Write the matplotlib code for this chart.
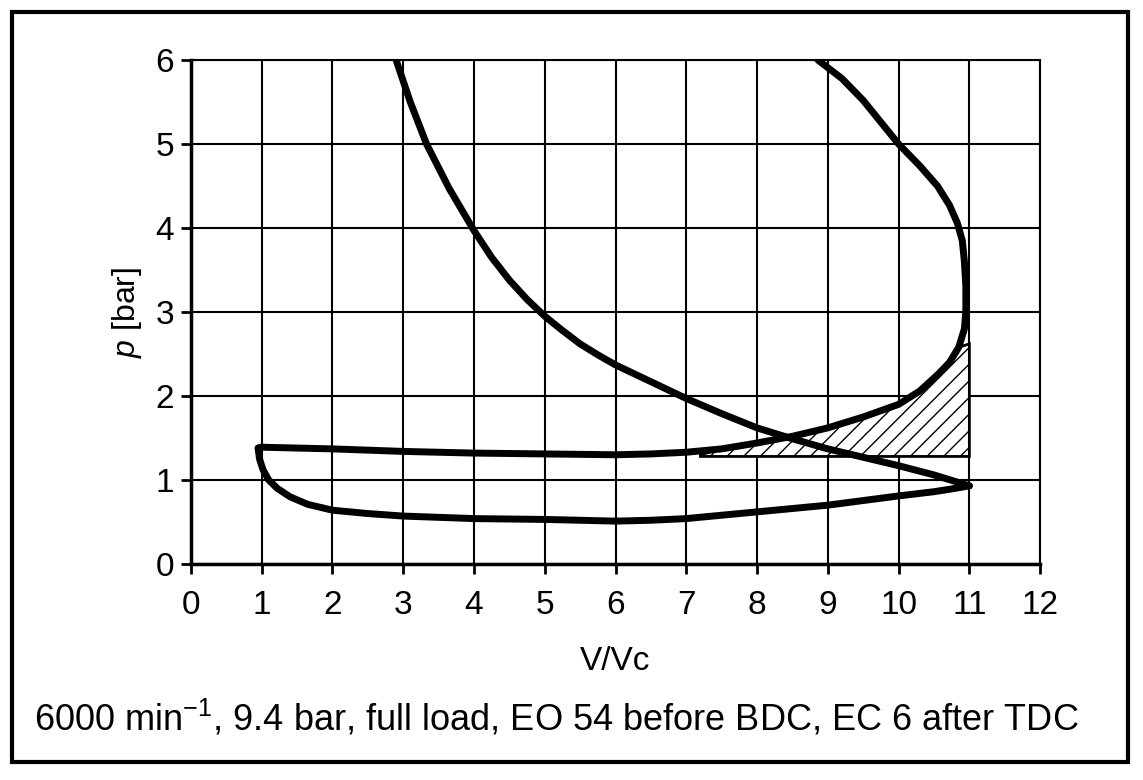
import matplotlib.pyplot as plt
from matplotlib.patches import Rectangle, Polygon

plt.rcParams['font.family'] = ['Liberation Sans', 'DejaVu Sans']
plt.rcParams['mathtext.fontset'] = 'custom'
plt.rcParams['mathtext.rm'] = 'Liberation Sans'
plt.rcParams['mathtext.it'] = 'Liberation Sans:italic'

# expansion line (after exhaust opens)
exp_v = [2.9, 3.1, 3.33, 3.65, 4.0, 4.25, 4.5, 4.75, 5.0, 5.25, 5.5, 5.75, 6.0, 6.5, 7.0, 7.5,
         8.0, 8.5, 9.0, 9.5, 10.0, 10.5, 11.0]
exp_p = [6.0, 5.5, 5.0, 4.47, 3.97, 3.65, 3.38, 3.15, 2.95, 2.78, 2.62, 2.49, 2.37, 2.17, 1.97, 1.79,
         1.62, 1.49, 1.37, 1.27, 1.17, 1.06, 0.93]

# blowdown + exhaust stroke
exh_v = [8.86, 9.2, 9.5, 9.75, 10.0, 10.3, 10.55, 10.72, 10.83, 10.9, 10.93, 10.95, 10.95, 10.93,
         10.85, 10.72, 10.56, 10.3, 10.0, 9.5, 9.0, 8.5, 8.0, 7.5, 7.0, 6.5, 6.0, 5.0, 4.0, 3.0,
         2.0, 1.0, 0.95]
exh_p = [6.0, 5.78, 5.52, 5.26, 5.0, 4.74, 4.5, 4.27, 4.06, 3.85, 3.6, 3.31, 3.0, 2.8,
         2.58, 2.4, 2.26, 2.06, 1.9, 1.75, 1.62, 1.52, 1.44, 1.37, 1.33, 1.31, 1.30, 1.31, 1.32, 1.34,
         1.37, 1.39, 1.38]

# intake stroke
int_v = [0.95, 0.97, 1.02, 1.1, 1.22, 1.4, 1.65, 2.0, 2.5, 3.0, 4.0, 5.0, 6.0, 6.5, 7.0, 8.0,
         9.0, 10.0, 10.5, 10.8, 11.0]
int_p = [1.38, 1.25, 1.12, 1.0, 0.9, 0.8, 0.71, 0.64, 0.6, 0.57, 0.54, 0.53, 0.51, 0.52, 0.54, 0.62,
         0.70, 0.81, 0.86, 0.9, 0.93]

# hatched loss area
hatch_v = [7.2, 7.5, 8.0, 8.5, 9.0, 9.5, 10.0, 10.3, 10.56, 10.72, 10.85, 11.0, 11.0]
hatch_p = [1.30, 1.37, 1.44, 1.52, 1.62, 1.75, 1.9, 2.06, 2.26, 2.4, 2.58, 2.62, 1.28]

fig = plt.figure(figsize=(11.43, 7.8), dpi=100)
ax = fig.add_axes([0.167, 0.277, 0.743, 0.646])

ax.add_patch(Polygon(list(zip(hatch_v, hatch_p)) + [(7.2, 1.28)], closed=True,
                     facecolor='white', edgecolor='black', hatch='//', lw=2, zorder=2))
for v, p in [(exp_v, exp_p), (exh_v, exh_p), (int_v, int_p)]:
    ax.plot(v, p, color='black', lw=5, solid_capstyle='round', solid_joinstyle='round', zorder=3)

ax.set_xlim(0, 12)
ax.set_ylim(0, 6)
ax.set_xticks(range(0, 13))
ax.set_yticks(range(0, 7))
ax.grid(True, color='black', lw=1.5)
ax.set_axisbelow(True)
for s in ['top', 'right']:
    ax.spines[s].set_linewidth(1.5)
for s in ['left', 'bottom']:
    ax.spines[s].set_linewidth(2.5)
ax.tick_params(direction='out', length=7, width=2, labelsize=24)
ax.tick_params(axis='x', pad=12)
ax.tick_params(axis='y', pad=5)

ax.set_xlabel('V/Vc', fontsize=24, labelpad=18)
ax.set_ylabel('$p$ [bar]', fontsize=23, labelpad=8)

fig.text(0.487, 1 - 718 / 780, '6000 min$^{-1}$, 9.4 bar, full load, EO 54 before BDC, EC 6 after TDC',
         ha='center', va='center', fontsize=26)

fig.patches.append(Rectangle((12 / 1143, 1 - 762 / 780), 1116 / 1143, 750 / 780,
                             transform=fig.transFigure, fill=False, edgecolor='black', lw=3))

fig.savefig('out.png', dpi=100)
